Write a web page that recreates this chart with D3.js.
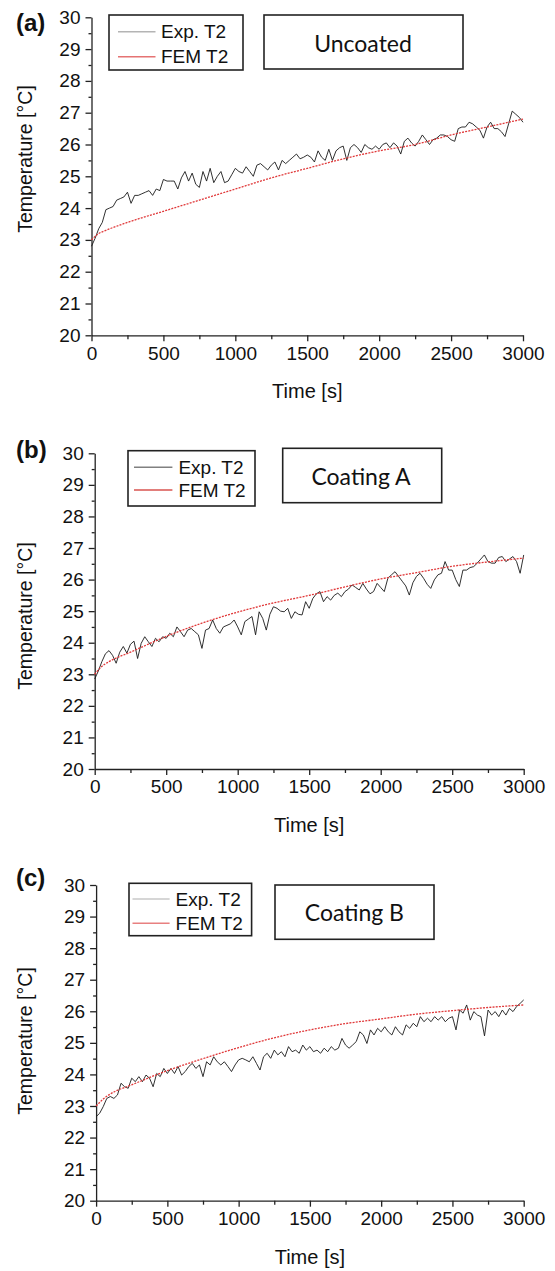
<!DOCTYPE html>
<html>
<head>
<meta charset="utf-8">
<script src="https://cdn.jsdelivr.net/npm/d3@7"></script>
<style>
body { margin: 0; background: #fff; }
svg { display: block; }
</style>
</head>
<body>
<svg id="chart" width="555" height="1271"></svg>
<script>
// measured temperature, one value every 25 s from 0 to 3000 s
const sampleStep = 25;

const expUncoated = [
    22.8, 23.05, 23.35, 23.55, 23.95, 24.0, 24.05, 24.25, 24.3, 24.35,
    24.5, 24.15, 24.4, 24.4, 24.45, 24.5, 24.55, 24.4, 24.6, 24.55,
    24.9, 24.85, 24.85, 24.85, 24.6, 24.95, 25.15, 24.85, 25.1, 24.75,
    24.65, 25.15, 24.85, 25.25, 24.8, 25.0, 25.15, 24.8, 24.85, 25.05,
    25.25, 25.15, 25.1, 25.3, 25.15, 25.0, 25.35, 25.4, 25.3, 25.2,
    25.35, 25.45, 25.2, 25.5, 25.4, 25.5, 25.6, 25.7, 25.55, 25.6,
    25.67, 25.6, 25.45, 25.8, 25.6, 25.5, 25.85, 25.5, 25.8, 25.9,
    25.95, 25.5, 25.9, 26.0, 25.9, 25.75, 26.0, 25.9, 25.85, 25.95,
    25.85, 26.0, 26.05, 25.9, 26.05, 25.95, 25.7, 26.1, 26.2, 26.05,
    25.95, 26.1, 26.3, 26.15, 26.0, 26.15, 26.2, 26.3, 26.3, 26.25,
    26.15, 26.1, 26.5, 26.55, 26.55, 26.7, 26.65, 26.55, 26.45, 26.2,
    26.55, 26.7, 26.5, 26.5, 26.4, 26.25, 26.65, 27.05, 26.95, 26.85,
    26.7
];

const expCoatingA = [
    22.85, 23.1, 23.4, 23.65, 23.75, 23.6, 23.35, 23.7, 23.88, 23.67,
    23.95, 24.05, 23.5, 23.98, 24.19, 24.03, 23.88, 24.14, 24.03, 24.19,
    24.14, 24.3, 24.19, 24.5, 24.35, 24.19, 24.4, 24.45, 24.35, 24.25,
    23.82, 24.4, 24.45, 24.72, 24.45, 24.3, 24.5, 24.55, 24.6, 24.72,
    24.5, 24.25, 24.67, 24.75, 24.83, 24.25, 24.98, 24.77, 24.4, 24.9,
    25.14, 25.09, 25.0, 24.98, 25.09, 24.77, 24.98, 24.9, 24.88, 25.3,
    25.09, 25.4, 25.55, 25.62, 25.3, 25.46, 25.35, 25.5, 25.57, 25.46,
    25.62, 25.7, 25.83, 25.75, 25.67, 25.88, 25.7, 25.55, 25.62, 25.88,
    25.75, 25.62, 26.04, 26.15, 26.25, 26.1, 25.95, 25.8, 25.51, 25.9,
    26.1, 26.2, 26.04, 25.85, 25.72, 25.99, 26.15, 26.2, 26.57, 26.3,
    26.3, 26.0, 25.78, 26.3, 26.3, 26.38, 26.41, 26.52, 26.65, 26.78,
    26.57, 26.52, 26.52, 26.7, 26.73, 26.57, 26.65, 26.73, 26.57, 26.2,
    26.78
];

const expCoatingB = [
    22.66, 22.77, 22.98, 23.24, 23.3, 23.24, 23.35, 23.72, 23.61, 23.56,
    23.88, 23.77, 23.93, 23.77, 23.98, 23.88, 23.61, 24.03, 23.93, 24.19,
    24.03, 24.19, 24.03, 24.25, 23.98, 24.09, 24.25, 24.35, 24.19, 24.3,
    23.93, 24.4, 24.3, 24.56, 24.4, 24.3, 24.4, 24.25, 24.09, 24.3,
    24.46, 24.51, 24.46, 24.4, 24.56, 24.35, 24.14, 24.56, 24.67, 24.51,
    24.77, 24.62, 24.72, 24.56, 24.88, 24.72, 24.77, 24.67, 24.93, 24.77,
    24.88, 24.72, 24.77, 24.67, 24.83, 24.72, 24.88, 24.77, 24.83, 25.14,
    24.93, 24.83, 24.93, 25.04, 25.35, 25.25, 24.98, 25.41, 25.25, 25.46,
    25.35, 25.51, 25.35, 25.25, 25.51, 25.35, 25.25, 25.57, 25.46, 25.62,
    25.51, 25.83, 25.67, 25.78, 25.67, 25.83, 25.72, 25.83, 25.67, 25.78,
    25.83, 25.41, 26.04, 25.94, 26.2, 25.72, 25.99, 25.88, 25.83, 25.22,
    26.04, 25.88, 25.99, 25.83, 26.04, 25.88, 26.09, 25.99, 26.15, 26.25,
    26.36
];

// simulated (FEM) temperature
const femTimes = [0, 50, 100, 250, 500, 750, 1000, 1250, 1500, 1750, 2000, 2250, 2500, 2750, 3000];
const femUncoated = [23.0, 23.2, 23.3, 23.55, 23.9, 24.25, 24.6, 24.95, 25.25, 25.55, 25.8, 26.0, 26.3, 26.55, 26.8];
const femCoatingA = [23.0, 23.25, 23.4, 23.7, 24.2, 24.62, 24.97, 25.26, 25.5, 25.77, 26.02, 26.22, 26.42, 26.56, 26.68];
const femCoatingB = [23.0, 23.22, 23.38, 23.67, 24.12, 24.5, 24.85, 25.16, 25.41, 25.61, 25.76, 25.91, 26.02, 26.12, 26.2];

const yTicks = [20, 21, 22, 23, 24, 25, 26, 27, 28, 29, 30];
const xTicks = [0, 500, 1000, 1500, 2000, 2500, 3000];
const seriesNames = ["Exp. T2", "FEM T2"];

const panels = [
    {
        tag: "(a)", title: "Uncoated", exp: expUncoated, fem: femUncoated,
        x0: 91.5, x1: 523, yTop: 17.3, yBot: 335.3, tagY: 30.5, yLabelY: 159,
        legend: { x: 109, y: 15, w: 134, h: 55, lx0: 118, lx1: 155.5, ly: [31.7, 56.7], tx: 161 },
        box: { x: 264, y: 15, w: 199, h: 54, cx: 363, cy: 43 },
        legendColors: ["#b4b4b4", "#e57373"]
    },
    {
        tag: "(b)", title: "Coating A", exp: expCoatingA, fem: femCoatingA,
        x0: 94.7, x1: 523.7, yTop: 453.3, yBot: 769, tagY: 457.5, yLabelY: 616,
        legend: { x: 128, y: 450.7, w: 127, h: 55.3, lx0: 134, lx1: 172.4, ly: [467.3, 490], tx: 178.4 },
        box: { x: 282.7, y: 448.3, w: 159, h: 54.4, cx: 361, cy: 475.7 },
        legendColors: ["#808080", "#d9534f"]
    },
    {
        tag: "(c)", title: "Coating B", exp: expCoatingB, fem: femCoatingB,
        x0: 96.1, x1: 523.7, yTop: 885, yBot: 1200.7, tagY: 885.5, yLabelY: 1041,
        legend: { x: 129, y: 883.3, w: 122.6, h: 52.4, lx0: 132.5, lx1: 169.6, ly: [899, 923.3], tx: 175.6 },
        box: { x: 275, y: 885, w: 159, h: 54.3, cx: 354.4, cy: 911.7 },
        legendColors: ["#c8c8c8", "#e88080"]
    }
];

const svg = d3.select("#chart");
svg.append("rect").attr("width", 555).attr("height", 1271).attr("fill", "#fff");

const axisFont = "'Liberation Sans', Arial, sans-serif";

panels.forEach(p => {
    const x = d3.scaleLinear().domain([0, 3000]).range([p.x0, p.x1]);
    const y = d3.scaleLinear().domain([20, 30]).range([p.yBot, p.yTop]);
    const g = svg.append("g");

    // minor ticks first, then the major axes on top
    g.append("g")
        .attr("transform", "translate(" + p.x0 + ",0)")
        .call(d3.axisLeft(y).tickValues(d3.range(20.5, 30, 1)).tickSize(3).tickFormat(""))
        .call(a => a.select(".domain").remove());
    g.append("g")
        .attr("transform", "translate(0," + p.yBot + ")")
        .call(d3.axisBottom(x).tickValues(d3.range(250, 3000, 500)).tickSize(4).tickFormat(""))
        .call(a => a.select(".domain").remove());

    const yAxis = g.append("g")
        .attr("transform", "translate(" + p.x0 + ",0)")
        .call(d3.axisLeft(y).tickValues(yTicks).tickSize(6).tickSizeOuter(0).tickPadding(5).tickFormat(d3.format("d")));
    const xAxis = g.append("g")
        .attr("transform", "translate(0," + p.yBot + ")")
        .call(d3.axisBottom(x).tickValues(xTicks).tickSize(6).tickSizeOuter(0).tickPadding(5).tickFormat(d3.format("d")));

    [yAxis, xAxis].forEach(a => {
        a.selectAll("text").style("font-family", axisFont).style("font-size", "19px").attr("fill", "#111");
        a.selectAll("line, path").attr("stroke", "#222").attr("stroke-width", 1.3);
    });
    g.selectAll("line").attr("stroke", "#222").attr("stroke-width", 1.3);

    // axis titles
    g.append("text")
        .attr("x", (p.x0 + p.x1) / 2)
        .attr("y", p.yBot + 63)
        .attr("text-anchor", "middle")
        .style("font-family", axisFont)
        .style("font-size", "20px")
        .attr("fill", "#111")
        .text("Time [s]");
    g.append("text")
        .attr("transform", "translate(32," + p.yLabelY + ") rotate(-90)")
        .attr("text-anchor", "middle")
        .style("font-family", axisFont)
        .style("font-size", "19.5px")
        .attr("fill", "#111")
        .text("Temperature [°C]");

    g.append("text")
        .attr("x", 16)
        .attr("y", p.tagY)
        .style("font-family", axisFont)
        .style("font-size", "24px")
        .style("font-weight", "bold")
        .attr("fill", "#111")
        .text(p.tag);

    // measured curve
    const expLine = d3.line()
        .x((d, i) => x(i * sampleStep))
        .y(d => y(d));
    g.append("path")
        .datum(p.exp)
        .attr("d", expLine)
        .attr("fill", "none")
        .attr("stroke", "#1a1a1a")
        .attr("stroke-width", 0.9);

    // FEM curve, dotted red
    const femLine = d3.line()
        .x((d, i) => x(femTimes[i]))
        .y(d => y(d))
        .curve(d3.curveMonotoneX);
    g.append("path")
        .datum(p.fem)
        .attr("d", femLine)
        .attr("fill", "none")
        .attr("stroke", "#e0393a")
        .attr("stroke-width", 1.3)
        .attr("stroke-dasharray", "2,1.2");

    // legend
    const L = p.legend;
    g.append("rect")
        .attr("x", L.x).attr("y", L.y).attr("width", L.w).attr("height", L.h)
        .attr("fill", "#fff").attr("stroke", "#222").attr("stroke-width", 1.6);
    seriesNames.forEach((name, i) => {
        g.append("line")
            .attr("x1", L.lx0).attr("x2", L.lx1)
            .attr("y1", L.ly[i]).attr("y2", L.ly[i])
            .attr("stroke", p.legendColors[i]).attr("stroke-width", 1.5);
        g.append("text")
            .attr("x", L.tx).attr("y", L.ly[i] + 6.5)
            .style("font-family", axisFont)
            .style("font-size", "19px")
            .attr("fill", "#111")
            .text(name);
    });

    // sample name box
    const B = p.box;
    g.append("rect")
        .attr("x", B.x).attr("y", B.y).attr("width", B.w).attr("height", B.h)
        .attr("fill", "#fff").attr("stroke", "#222").attr("stroke-width", 1.6);
    g.append("text")
        .attr("x", B.cx).attr("y", B.cy)
        .attr("text-anchor", "middle")
        .attr("dominant-baseline", "central")
        .style("font-family", "Lato, 'Open Sans', sans-serif")
        .style("font-size", "23px")
        .attr("fill", "#111")
        .text(p.title);
});
</script>
</body>
</html>
